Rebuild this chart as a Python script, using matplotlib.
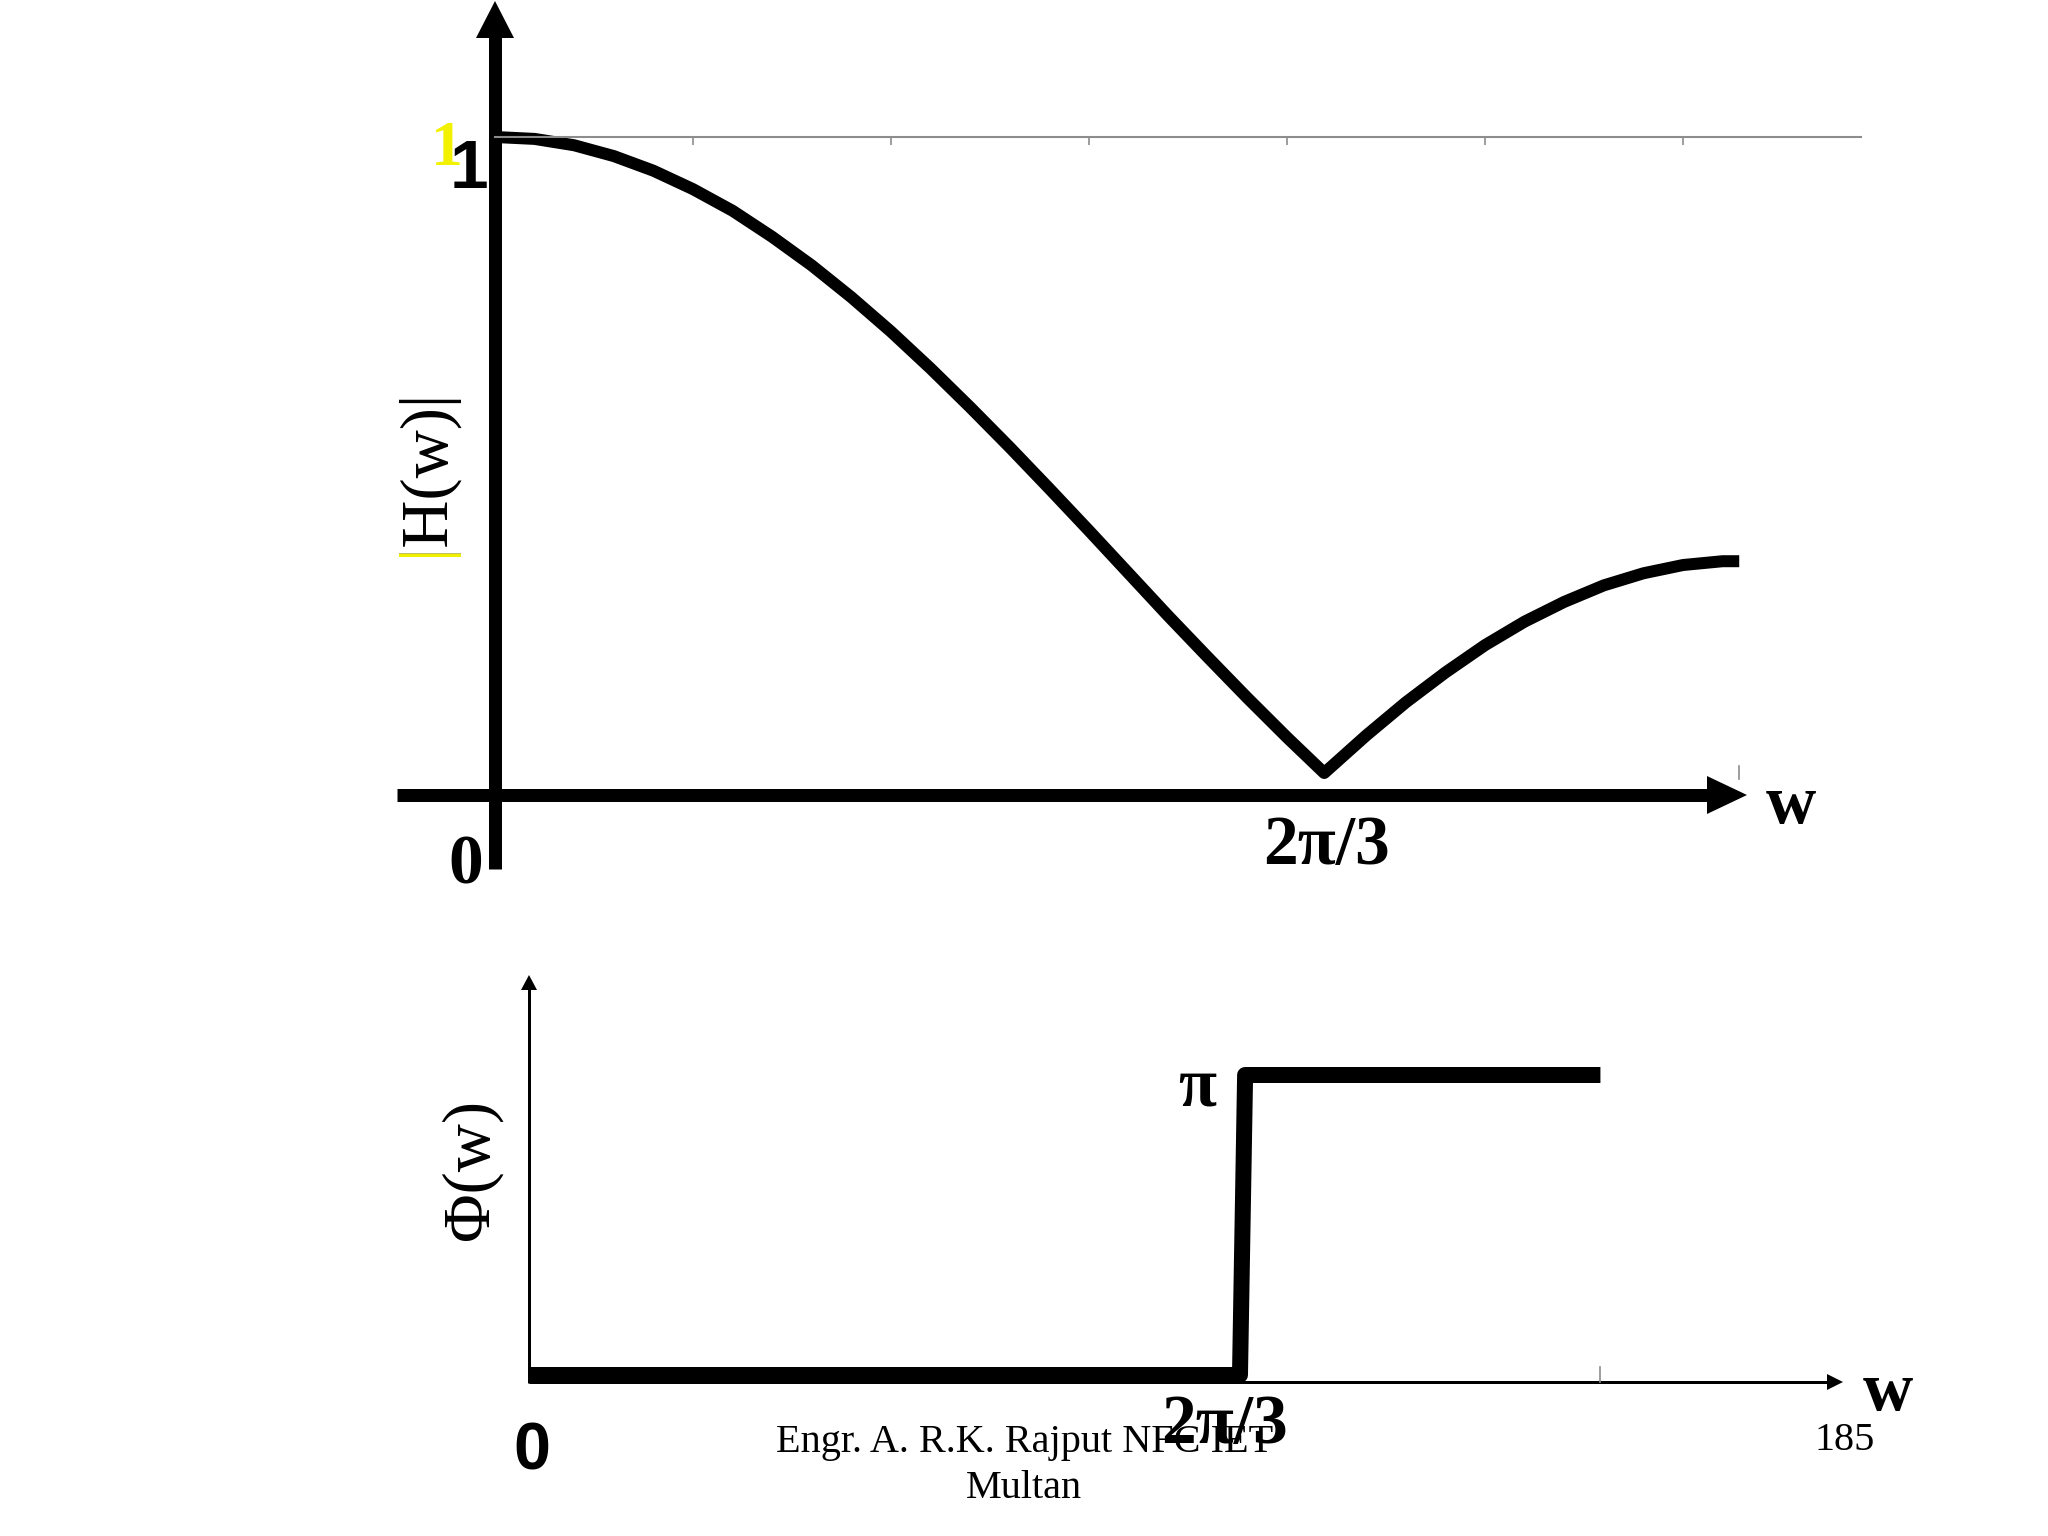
import numpy as np
import matplotlib
matplotlib.use("Agg")
import matplotlib.pyplot as plt
from matplotlib.patches import Polygon

# ── Data ───────────────────────────────────────────────────────────────────────
# magnitude response |H(w)| (top panel)
W_MAG = [0.0, 0.1, 0.2, 0.3, 0.4, 0.5, 0.6, 0.7, 0.8, 0.9, 1.0, 1.1, 1.2, 1.3,
         1.4, 1.5, 1.6, 1.7, 1.8, 1.9, 2.0, 2.094, 2.2, 2.3, 2.4, 2.5, 2.6,
         2.7, 2.8, 2.9, 3.0, 3.1, 3.142]
H_MAG = [1.000, 0.997, 0.987, 0.970, 0.947, 0.918, 0.884, 0.843, 0.798, 0.748,
         0.694, 0.636, 0.575, 0.512, 0.447, 0.381, 0.314, 0.247, 0.182, 0.118,
         0.056, 0.000, 0.059, 0.111, 0.158, 0.201, 0.238, 0.269, 0.295, 0.314,
         0.327, 0.333, 0.333]
MAG_TICKS = [0.5, 1.0, 1.5, 2.0, 2.5, 3.0]

# phase response Phi(w) (bottom panel)
W_PHASE = [0.0, 2.085, 2.100, 3.142]
PHI     = [0.0, 0.0, np.pi, np.pi]

# ── Style ──────────────────────────────────────────────────────────────────────
FW, FH = 2048, 1536
SERIF  = "Liberation Serif"
SANS   = "Liberation Sans"
GREY   = "#8c8c8c"
YELLOW = "#f2f200"
PT     = 0.72          # points per pixel at dpi=100


def pos(x0, x1, y_top, y_bot):
    """pixel box -> figure fraction rect"""
    return [x0 / FW, 1 - y_bot / FH, (x1 - x0) / FW, (y_bot - y_top) / FH]


fig = plt.figure(figsize=(20.48, 15.36), dpi=100)
fig.patch.set_facecolor("white")

# overlay in pixel coordinates for the hand-drawn axes and labels
over = fig.add_axes([0, 0, 1, 1])
over.set_xlim(0, FW)
over.set_ylim(FH, 0)
over.axis("off")


def arrow_line(x, y, lw_px):
    over.plot(x, y, color="black", lw=lw_px * PT, solid_capstyle="butt")


def head(pts):
    over.add_patch(Polygon(pts, closed=True, color="black", lw=0))


# top panel axes
arrow_line([495, 495], [36, 869], 13)
head([(495, 1), (476, 38), (514, 38)])
arrow_line([397, 1709], [795, 795], 13)
head([(1707, 776), (1747, 795), (1707, 814)])

# bottom panel axes
arrow_line([529, 529], [988, 1383], 3)
head([(529, 975), (521, 990), (537, 990)])
arrow_line([529, 1829], [1381.5, 1381.5], 3)
head([(1827, 1374), (1843, 1382), (1827, 1390)])

# ── Top panel: magnitude ───────────────────────────────────────────────────────
ax1 = fig.add_axes(pos(495, 495 + 3.45 * 396, 137, 773), zorder=2)
ax1.set_facecolor("none")
ax1.set_xlim(0, 3.45)
ax1.set_ylim(0, 1)
for s in ("left", "right", "bottom"):
    ax1.spines[s].set_visible(False)
ax1.spines["top"].set_color(GREY)
ax1.spines["top"].set_linewidth(1.5)
ax1.xaxis.tick_top()
ax1.set_xticks(MAG_TICKS)
ax1.tick_params(axis="x", direction="in", length=6, width=1.2, color=GREY,
                labeltop=False, labelbottom=False)
ax1.set_yticks([])
ax1.plot(W_MAG, H_MAG, color="black", lw=12 * PT, solid_joinstyle="round",
         solid_capstyle="butt", clip_on=False)
ax1.plot([np.pi, np.pi], [-0.01, 0.011], color=GREY, lw=1.2, clip_on=False)

# ── Bottom panel: phase ────────────────────────────────────────────────────────
ax2 = fig.add_axes(pos(529, 529 + 341 * np.pi, 1075, 1375), zorder=2)
ax2.set_facecolor("none")
ax2.set_xlim(0, np.pi)
ax2.set_ylim(0, np.pi)
ax2.axis("off")
ax2.plot(W_PHASE, PHI, color="black", lw=16 * PT, solid_joinstyle="round",
         solid_capstyle="butt", clip_on=False)
ax2.plot([np.pi, np.pi], [-0.075, 0.085], color=GREY, lw=1.2, clip_on=False)

# ── Labels ─────────────────────────────────────────────────────────────────────
bold_serif = dict(fontfamily=SERIF, fontweight="bold", fontsize=50,
                  ha="center", va="baseline", color="black")

over.text(447, 165, "1", fontfamily=SERIF, fontweight="bold", fontsize=46,
          color=YELLOW, ha="center", va="baseline")
over.text(469, 188, "1", fontfamily=SANS, fontweight="bold", fontsize=50,
          color="black", ha="center", va="baseline")

over.text(443, 556, "|H(w)|", fontfamily=SERIF, fontsize=48, rotation=90,
          rotation_mode="anchor", ha="left", va="baseline", color="black")
over.text(443, 556, "|", fontfamily=SERIF, fontsize=48, rotation=90,
          rotation_mode="anchor", ha="left", va="baseline", color=YELLOW)

over.text(466, 883, "0", **bold_serif)
over.text(1327, 864, "2π/3", **bold_serif)
over.text(1791, 823, "w", **bold_serif)

over.text(488, 1170, "Φ(w)", fontfamily=SERIF, fontsize=48, rotation=90,
          rotation_mode="anchor", ha="center", va="baseline", color="black")
over.text(1197, 1105, "π", **bold_serif)
over.text(1888, 1410, "w", **bold_serif)
over.text(532, 1469, "0", fontfamily=SANS, fontweight="bold", fontsize=48,
          ha="center", va="baseline", color="black")

# slide footer
over.text(1025, 1452, "Engr. A. R.K. Rajput NFC IET", fontfamily=SERIF,
          fontsize=29, ha="center", va="baseline", color="black")
over.text(1024, 1498, "Multan", fontfamily=SERIF, fontsize=29,
          ha="center", va="baseline", color="black")
over.text(1845, 1450, "185", fontfamily=SERIF, fontsize=29,
          ha="center", va="baseline", color="black")
over.text(1225, 1443, "2π/3", zorder=5, **bold_serif)

fig.savefig("out.png", dpi=100, facecolor="white")
